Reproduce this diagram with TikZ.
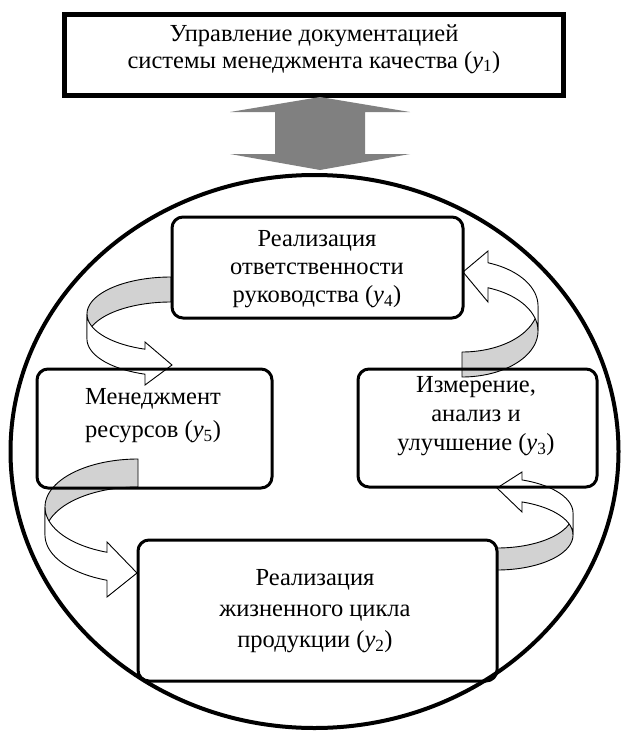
\documentclass[tikz,border=0pt]{standalone}
\usepackage{fontspec}
\setmainfont{Liberation Serif}
\tikzset{
  boxr/.style={draw, line width=3pt, rounded corners=11pt, inner sep=0pt},
  topbox/.style={draw, line width=5pt, inner sep=0pt},
  lbl/.style={font=\fontsize{24.5}{#1}\selectfont, align=center, inner sep=0pt},
  lbl/.default=27,
  ribback/.style={fill=gray!35, draw=black, line width=0.9pt, line join=round},
  ribfront/.style={fill=white, draw=black, line width=0.9pt, line join=miter},
  bigarrow/.style={fill=gray},
  ring/.style={draw, line width=4pt}
}
\newcommand\ribbonarrow[8]{%
  \pgfmathsetmacro\rA{#1}%
  \pgfmathsetmacro\rB{#2}%
  \pgfmathsetmacro\rT{#3}%
  \pgfmathsetmacro\rE{180+acos(#4/#1)}%
  \pgfmathsetmacro\rX{-(#4)}%
  \path[ribback] plot[domain=90:180,samples=40] ({\rA*cos(\x)},{-\rB*sin(\x)})
     -- plot[domain=180:90,samples=40] ({\rA*cos(\x)},{\rT-\rB*sin(\x)}) -- cycle;
  \path[ribfront] plot[domain=180:\rE,samples=40] ({\rA*cos(\x)},{-\rB*sin(\x)})
     -- (\rX,#5) -- (#7,#8) -- (\rX,#6)
     -- plot[domain=\rE:180,samples=40] ({\rA*cos(\x)},{\rT-\rB*sin(\x)}) -- cycle;
}
\newcommand\ysub[1]{\textit{y}\textsubscript{#1}}
\begin{document}
\begin{tikzpicture}[x=1pt, y=-1pt]
\useasboundingbox (0,0) rectangle (629,731);

% outer ring
\draw[ring] (314.5,451.5) ellipse [x radius=304pt, y radius=276.5pt];

% top box
\node[topbox, minimum width=499pt, minimum height=81pt] (top) at (313.5,54.5) {};
\node[lbl=27] (ttop) at (314,49) {Управление документацией\\системы менеджмента качества (\ysub{1})};

% double block arrow
\fill[bigarrow] (320,97) -- (410,112) -- (365,112) -- (365,154) -- (410,154)
  -- (320,170) -- (230,154) -- (275,154) -- (275,112) -- (230,112) -- cycle;

% curved ribbon arrows
\begin{scope}[shift={(171,314)}]
  \ribbonarrow{84}{37}{25}{26}{28}{71}{1}{51}
\end{scope}
\begin{scope}[shift={(462,331)}, rotate=180]
  \ribbonarrow{76}{46}{25}{26}{29}{80}{-1}{59}
\end{scope}
\begin{scope}[shift={(138,507)}]
  \ribbonarrow{93}{48}{28}{31}{35}{90}{-1}{66}
\end{scope}
\begin{scope}[shift={(497,535)}, rotate=180]
  \ribbonarrow{76}{35}{22}{25}{23}{63}{0}{47}
\end{scope}

% boxes
\node[boxr, minimum width=291pt, minimum height=101pt] (b4) at (317.5,267.5) {};
\node[boxr, minimum width=235pt, minimum height=119pt] (b5) at (154.5,428.5) {};
\node[boxr, minimum width=239pt, minimum height=118pt] (b3) at (477.5,428) {};
\node[boxr, minimum width=359pt, minimum height=141pt] (b2) at (317.5,610.5) {};

% texts
\node[lbl=28] (t4) at (317,269) {Реализация\\ответственности\\руководства (\ysub{4})};
\node[lbl=33] (t5) at (153,416) {Менеджмент\\ресурсов (\ysub{5})};
\node[lbl=29] (t3) at (476,416) {Измерение,\\анализ и\\улучшение (\ysub{3})};
\node[lbl=31] (t2) at (315,611) {Реализация\\жизненного цикла\\продукции (\ysub{2})};
\end{tikzpicture}
\end{document}
